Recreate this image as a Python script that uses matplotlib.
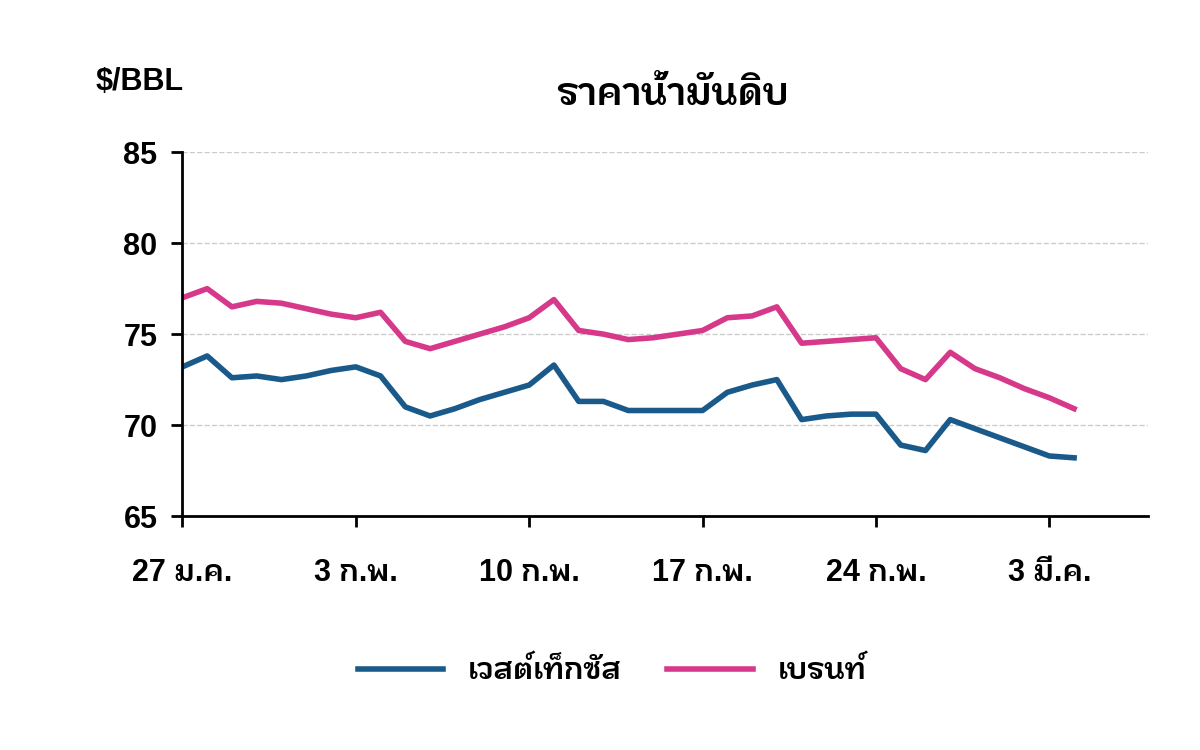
import matplotlib.pyplot as plt
from matplotlib import font_manager
from fontTools.ttLib import TTFont

# look for an installed family that carries Thai glyphs
thai_family = None
for path in font_manager.findSystemFonts():
    try:
        f = TTFont(path, fontNumber=0, lazy=True)
        if 0x0E01 in f.getBestCmap():
            font_manager.fontManager.addfont(path)
            thai_family = font_manager.FontProperties(fname=path).get_name()
            if 'Bold' in path:
                break
    except Exception:
        continue

families = ['Liberation Sans']
if thai_family:
    families.append(thai_family)
families.append('DejaVu Sans')
plt.rcParams['font.family'] = families

days = list(range(37))
wti = [73.2, 73.8, 72.6, 72.7, 72.5, 72.7, 73.0, 73.2, 72.7, 71.0, 70.5, 70.9, 71.4, 71.8, 72.2, 73.3,
       71.3, 71.3, 70.8, 70.8, 70.8, 70.8, 71.8, 72.2, 72.5, 70.3, 70.5, 70.6, 70.6, 68.9, 68.6, 70.3,
       69.8, 69.3, 68.8, 68.3, 68.2]
brent = [77.0, 77.5, 76.5, 76.8, 76.7, 76.4, 76.1, 75.9, 76.2, 74.6, 74.2, 74.6, 75.0, 75.4, 75.9, 76.9,
         75.2, 75.0, 74.7, 74.8, 75.0, 75.2, 75.9, 76.0, 76.5, 74.5, 74.6, 74.7, 74.8, 73.1, 72.5, 74.0,
         73.1, 72.6, 72.0, 71.5, 70.9]
tick_days = [0, 7, 14, 21, 28, 35]
tick_labels = ['27 ม.ค.', '3 ก.พ.', '10 ก.พ.', '17 ก.พ.', '24 ก.พ.', '3 มี.ค.']

fig = plt.figure(figsize=(12, 7.5), dpi=100)
ax = fig.add_axes([0.152, 0.312, 0.805, 0.485])
ax.plot(days, wti, color='#1a5a8a', lw=4, label='เวสต์เท็กซัส')
ax.plot(days, brent, color='#d6398a', lw=4, label='เบรนท์')
ax.set_xlim(0, 39)
ax.set_ylim(65, 85)
ax.set_yticks([65, 70, 75, 80, 85])
ax.set_xticks(tick_days)
ax.set_xticklabels(tick_labels)
ax.grid(axis='y', ls='--', color='#cccccc', lw=1)
for s in ['top', 'right']:
    ax.spines[s].set_visible(False)
for s in ['left', 'bottom']:
    ax.spines[s].set_linewidth(2)
ax.tick_params(width=2, length=8, labelsize=22, pad=10)
for t in ax.get_xticklabels() + ax.get_yticklabels():
    t.set_fontweight('bold')
ax.tick_params(axis='x', pad=22)
fig.text(0.08, 0.88, '$/BBL', fontsize=22, fontweight='bold')
fig.text(0.56, 0.86, 'ราคาน้ำมันดิบ', fontsize=28, fontweight='bold', ha='center')
fig.legend(loc='center', bbox_to_anchor=(0.51, 0.105), ncol=2, frameon=False,
           prop={'size': 22, 'weight': 'bold'}, handlelength=2.8, columnspacing=1.5)
fig.savefig('out.png')
